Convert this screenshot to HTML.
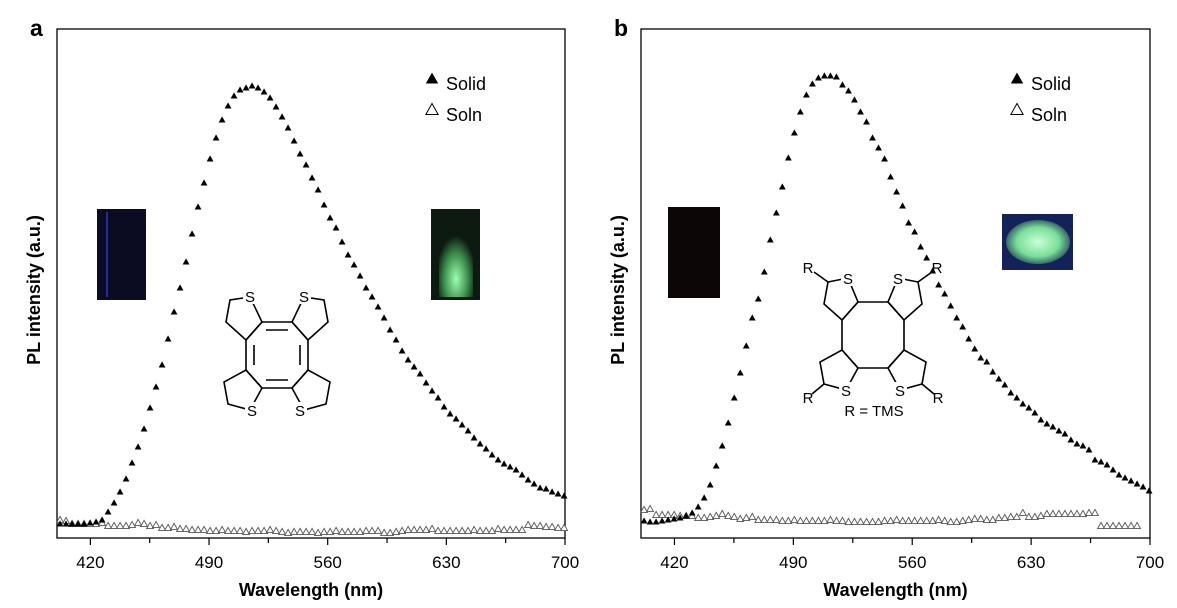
<!DOCTYPE html>
<html><head><meta charset="utf-8"><style>
body{margin:0;background:#fff;font-family:"Liberation Sans",Arial,sans-serif}
svg{display:block}
</style></head><body>
<svg id="fig" width="1177" height="608" xmlns="http://www.w3.org/2000/svg">
<script>
// shared x sampling (nm)
const wlStart = 402.1, wlStep = 3.54;
const xTicks = [420, 490, 560, 630, 700];
const xMinor = [455, 525, 595, 665];
// Panel a
const solidA = [14,14,14,14,14,15,16,18,26,35,46,59,75,91,109,130,151,173,199,226,250,276,304,331,355,379,400,418,432,442,448,450,452,450,446,440,431,421,410,397,384,373,360,348,333,320,310,296,283,273,262,250,241,231,220,208,198,187,178,171,164,155,147,140,131,124,119,113,107,100,94,89,83,78,74,71,68,63,58,54,50,49,46,44,42];
const solnA = [18,17,14,14,14,14,14,15,12,12,12,12,13,15,14,12,13,10,10,11,9,9,8,8,8,7,7,8,7,7,7,6,7,7,7,8,7,6,5,6,6,6,6,5,6,6,7,6,6,6,6,7,7,7,5,5,6,7,8,8,8,8,9,7,7,7,7,7,7,8,7,7,7,9,8,8,8,8,13,12,12,11,11,10,10];
// Panel b
const solidB = [17,16,16,17,18,19,20,22,25,31,40,53,72,92,115,140,165,192,220,239,266,298,325,351,380,405,426,443,454,460,462,462,461,453,447,438,426,416,400,390,379,361,346,332,315,306,291,280,267,253,244,232,220,211,199,189,180,176,166,159,153,145,140,134,130,125,118,114,111,107,104,98,94,92,88,78,76,73,68,63,60,57,54,51,47];
const solnB = [28,29,23,23,23,23,22,22,22,20,20,21,22,24,22,21,19,20,21,18,18,18,18,17,17,18,17,17,17,17,17,18,17,17,16,16,16,16,16,16,17,17,18,17,17,17,17,17,17,18,17,16,16,17,18,19,19,18,18,20,20,21,21,25,21,21,22,24,24,24,24,24,24,24,25,25,12,12,12,12,12,12,12];
</script>
<g id="panelA"></g>
<g id="panelB"></g>

<g>
<rect x="97" y="209" width="49" height="91" fill="#0b0b22"/>
<rect x="106" y="212" width="2" height="85" fill="#2a2aa0"/>
</g>
<g>
<defs><radialGradient id="gg" cx="50%" cy="75%" r="60%"><stop offset="0" stop-color="#9dffb0"/><stop offset="0.6" stop-color="#3a8a4a"/><stop offset="1" stop-color="#0c1a10"/></radialGradient>
<radialGradient id="gb" cx="50%" cy="50%" r="60%"><stop offset="0" stop-color="#c8ffd8"/><stop offset="0.55" stop-color="#7adf9a"/><stop offset="1" stop-color="#12204a"/></radialGradient></defs>
<rect x="431" y="209" width="49" height="91" fill="#0d1a12"/>
<rect x="439" y="225" width="34" height="72" fill="url(#gg)"/>
</g>
<g stroke="#000" stroke-width="1.6" fill="none">
<polygon points="262,322 292,322 308,340 308,370 292,388 262,388 246,370 246,340"/>
<polygon points="262,322 246,340 226,322 230,300 250,297"/>
<polygon points="292,322 308,340 328,322 324,300 304,297"/>
<polygon points="246,370 262,388 250,410 228,404 224,382"/>
<polygon points="308,370 292,388 304,410 326,404 330,382"/>
<line x1="266" y1="330" x2="288" y2="330"/><line x1="266" y1="380" x2="288" y2="380"/>
<line x1="254" y1="345" x2="254" y2="365"/><line x1="300" y1="345" x2="300" y2="365"/>
</g>
<g font-size="15" text-anchor="middle" fill="#000">
<rect x="243" y="288" width="14" height="16" fill="#fff"/><text x="250" y="302">S</text>
<rect x="297" y="288" width="14" height="16" fill="#fff"/><text x="304" y="302">S</text>
<rect x="245" y="402" width="14" height="16" fill="#fff"/><text x="252" y="416">S</text>
<rect x="293" y="402" width="14" height="16" fill="#fff"/><text x="300" y="416">S</text>
</g>

<rect x="668" y="207" width="52" height="91" fill="#0c0606"/>
<g>
<rect x="1002" y="214" width="71" height="56" fill="#14225a"/>
<ellipse cx="1038" cy="242" rx="32" ry="22" fill="url(#gb)"/>
</g>
<g stroke="#000" stroke-width="1.6" fill="none">
<polygon points="858,302 888,302 904,320 904,350 888,368 858,368 842,350 842,320"/>
<polygon points="858,302 842,320 824,304 828,282 848,278"/>
<polygon points="888,302 904,320 922,304 918,282 898,278"/>
<polygon points="842,350 858,368 846,390 824,384 820,362"/>
<polygon points="904,350 888,368 900,390 922,384 926,362"/>
<line x1="828" y1="282" x2="814" y2="272"/><line x1="918" y1="282" x2="932" y2="272"/>
<line x1="824" y1="384" x2="812" y2="394"/><line x1="922" y1="384" x2="934" y2="394"/>
</g>
<g font-size="15" text-anchor="middle" fill="#000">
<rect x="841" y="270" width="14" height="16" fill="#fff"/><text x="848" y="284">S</text>
<rect x="891" y="270" width="14" height="16" fill="#fff"/><text x="898" y="284">S</text>
<rect x="839" y="382" width="14" height="16" fill="#fff"/><text x="846" y="396">S</text>
<rect x="893" y="382" width="14" height="16" fill="#fff"/><text x="900" y="396">S</text>
<text x="808" y="273">R</text>
<text x="937" y="273">R</text>
<text x="808" y="403">R</text>
<text x="938" y="403">R</text>
<text x="874" y="416">R = TMS</text>
</g>
</svg>
<script>
const NS = "http://www.w3.org/2000/svg";
function mk(parent, tag, attrs){const e=document.createElementNS(NS,tag);for(const k in attrs)e.setAttribute(k,attrs[k]);parent.appendChild(e);return e;}
function drawPanel(g, x0, x1, label, solid, soln){
  const yTop=29, yBot=538, xMin=400.3, xMax=700, vMax=509;
  const xs = w => x0 + (w - xMin) / (xMax - xMin) * (x1 - x0);
  const ys = v => yBot - v / vMax * (yBot - yTop);
  const box = mk(g,'rect',{x:x0,y:yTop,width:x1-x0,height:yBot-yTop,fill:'none',stroke:'#000','stroke-width':1.3});
  
  
  xTicks.forEach(t=>{
    const l=mk(g,'line',{x1:xs(t),x2:xs(t),y1:yBot,y2:yBot+7,stroke:'#000','stroke-width':1.2});
    
    
    const tx=mk(g,'text',{x:xs(t),y:568,'font-size':17,'text-anchor':'middle'});
    tx.textContent=t;
    
    
  });
  xMinor.forEach(t=>{
    const l=mk(g,'line',{x1:xs(t),x2:xs(t),y1:yBot,y2:yBot+5,stroke:'#000','stroke-width':1.2});
    
    
  });
  const xt=mk(g,'text',{x:(x0+x1)/2,y:596,'font-size':18,'font-weight':'bold','text-anchor':'middle'});
  xt.textContent='Wavelength (nm)';
  
  
  const yt=mk(g,'text',{x:0,y:0,'font-size':18,'font-weight':'bold','text-anchor':'middle',transform:`translate(${x0-17},290) rotate(-90)`});
  yt.textContent='PL intensity (a.u.)';
  
  
  const pl=mk(g,'text',{x:x0-27,y:36,'font-size':23,'font-weight':'bold'});
  pl.textContent=label;
  
  
  const tri=(cx,cy,s)=>`${cx},${cy-s} ${cx+s*0.95},${cy+s*0.7} ${cx-s*0.95},${cy+s*0.7}`;
  soln.forEach((v,i)=>{
    const w=wlStart+i*wlStep; if(w>xMax+0.5) return;
    const p=mk(g,'polygon',{points:tri(xs(w),ys(v),3.6),fill:'#fff',stroke:'#555','stroke-width':0.9});
    
    
  });
  solid.forEach((v,i)=>{
    const w=wlStart+i*wlStep; if(w>xMax+0.5) return;
    const p=mk(g,'polygon',{points:tri(xs(w),ys(v),3.6),fill:'#000'});
    
    
  });
  const lx=x1-133;
  const l1=mk(g,'polygon',{points:tri(lx,79,6.5),fill:'#000'});
  
  
  const t1=mk(g,'text',{x:lx+14,y:90,'font-size':18});
  t1.textContent='Solid';
  
  
  const l2=mk(g,'polygon',{points:tri(lx,110,6.5),fill:'#fff',stroke:'#000','stroke-width':1});
  
  
  const t2=mk(g,'text',{x:lx+14,y:121,'font-size':18});
  t2.textContent='Soln';
  
  
}
drawPanel(document.getElementById('panelA'),57,565,'a',solidA,solnA);
drawPanel(document.getElementById('panelB'),641,1150,'b',solidB,solnB);
</script>
</body></html>
